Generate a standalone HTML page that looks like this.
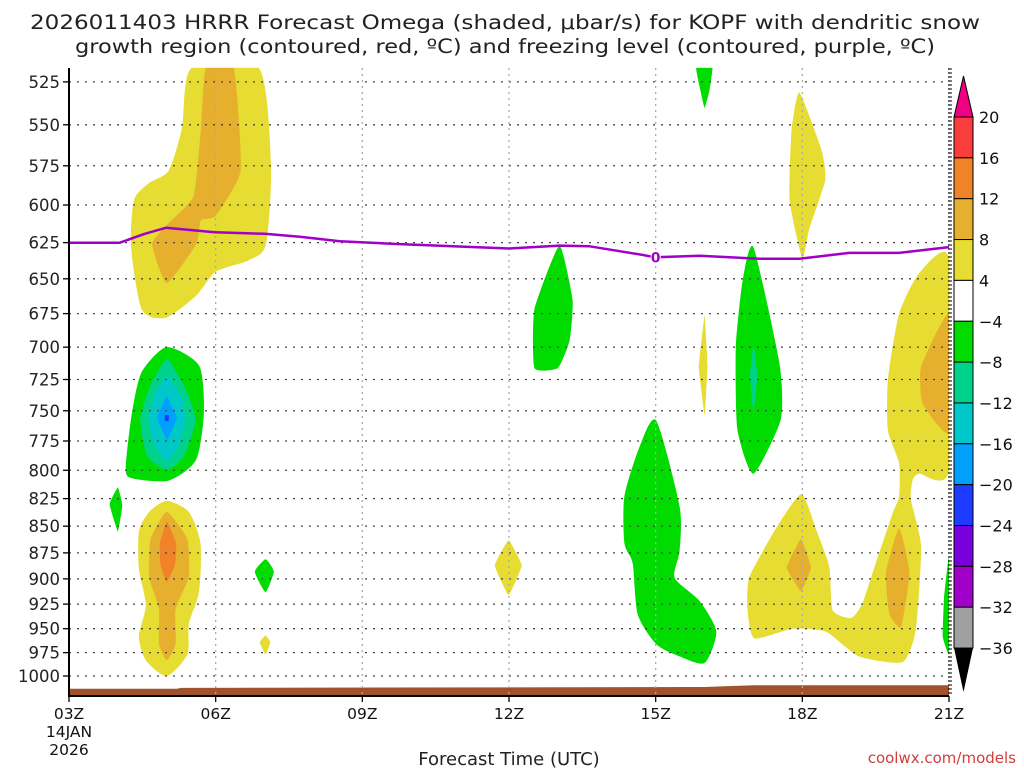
<!DOCTYPE html>
<html><head><meta charset="utf-8"><style>
html,body{margin:0;padding:0;background:#fff;}
svg{display:block;font-family:"DejaVu Sans","Liberation Sans",sans-serif;}
</style></head><body>
<svg id="chart" width="1024" height="768" xmlns="http://www.w3.org/2000/svg">
<text x="505" y="29" font-size="19.5" text-anchor="middle" fill="#222" textLength="950" lengthAdjust="spacingAndGlyphs">2026011403 HRRR Forecast Omega (shaded, μbar/s) for KOPF with dendritic snow</text>
<text x="505" y="53" font-size="19.5" text-anchor="middle" fill="#222" textLength="860" lengthAdjust="spacingAndGlyphs">growth region (contoured, red, ºC) and freezing level (contoured, purple, ºC)</text>
<g id="fills"></g>
<g id="grid"></g>
<g id="lines"></g>
<g id="axes"></g>
<g id="cbar"></g>
<text x="509" y="765" font-size="18" text-anchor="middle" fill="#222">Forecast Time (UTC)</text>
<text x="1016" y="763" font-size="15" text-anchor="end" fill="#d23c3c">coolwx.com/models</text>
</svg>
<script>
const pressureLevels=[525,550,575,600,625,650,675,700,725,750,775,800,825,850,875,900,925,950,975,1000];
const timeTicks=["03Z","06Z","09Z","12Z","15Z","18Z","21Z"];
const tickHours=[0,3,6,9,12,15,18];
const cbarLabels=["20","16","12","8","4","−4","−8","−12","−16","−20","−24","−28","−32","−36"];
const cbarColors=["#fa3c3c","#f08228","#e6af2d","#e6dc32","#ffffff","#00dc00","#00d28c","#00c8c8","#00a0ff","#1e3cff","#7800dc","#a000c8","#a0a0a0"];
const yellowA=[[2.51,517],[3.88,517],[4.13,574],[4.03,626],[3.68,637],[3.0,645],[2.6,662],[1.98,678],[1.49,672],[1.27,628],[1.33,597],[1.63,586],[2.04,578],[2.31,552]];
const orangeA=[[2.8,517],[3.37,517],[3.51,578],[3.0,607],[2.7,610],[2.6,626],[2.0,653],[1.7,626],[2.04,612],[2.55,594],[2.7,552]];
const greenB=[[2.0,700],[2.66,714],[2.76,751],[2.6,791],[2.04,809],[1.29,807],[1.16,798],[1.29,751],[1.49,719]];
const tealB=[[2.0,709],[2.38,732],[2.59,758],[2.35,788],[2.0,800],[1.6,788],[1.46,758],[1.64,732]];
const cyanB=[[2.0,722],[2.32,741],[2.38,758],[2.25,778],[2.0,793],[1.74,778],[1.64,758],[1.74,738]];
const blueB=[[2.0,738],[2.21,756],[2.0,774],[1.8,756]];
const greenSmall1=[[1.0,815],[1.09,831],[1.0,855],[0.83,830]];
const yellowC=[[2.0,827],[2.45,837],[2.69,866],[2.66,913],[2.45,945],[2.42,977],[2.0,1000],[1.57,983],[1.43,958],[1.57,926],[1.43,890],[1.43,855],[1.64,837]];
const orangeC=[[2.0,837],[2.42,862],[2.45,898],[2.18,930],[2.18,966],[2.0,983],[1.84,966],[1.84,930],[1.64,898],[1.67,862]];
const dorangeC=[[2.0,846],[2.19,866],[2.17,886],[2.0,903],[1.87,886],[1.86,866]];
const greenSmall2=[[4.02,881],[4.19,893],[4.02,913],[3.8,893]];
const yellowSmall1=[[4.02,957],[4.12,964],[4.02,977],[3.9,964]];
const yellowSmall2=[[8.99,863],[9.26,887],[8.99,916],[8.71,887]];
const green13=[[10.03,627],[10.3,665],[10.24,695],[10.0,716],[9.52,716],[9.52,672]];
const greenTop16=[[12.83,517],[13.16,517],[13.1,530],[13.0,540],[12.9,528]];
const yellowThin16=[[13.0,676],[13.06,715],[13.0,754],[12.88,715]];
const greenD=[[12.01,758],[12.49,832],[12.49,873],[12.39,899],[12.9,922],[13.24,953],[13.0,986],[12.49,979],[12.01,966],[11.63,935],[11.53,885],[11.36,866],[11.36,823],[11.67,780]];
const greenE=[[14.0,628],[14.53,712],[14.56,757],[14.0,803],[13.67,765],[13.64,700],[13.78,651]];
const tealE=[[14.0,697],[14.08,722],[14.0,753],[13.93,722]];
const yellow18=[[14.94,531],[15.39,565],[15.47,584],[15.14,616],[15.0,636],[14.74,597],[14.78,553]];
const yellowF=[[18.0,636],[17.39,646],[16.98,675],[16.75,725],[16.75,766],[16.98,794],[16.98,823],[16.85,838],[16.5,885],[16.23,924],[16.0,939],[15.62,931],[15.55,888],[15.28,853],[14.99,821],[14.53,847],[13.92,898],[13.88,931],[14.02,960],[14.8,950],[15.48,953],[16.16,979],[17.05,985],[17.32,951],[17.43,869],[17.22,826],[17.26,808],[17.39,803],[18.0,800]];
const orangeF1=[[18.0,675],[17.43,715],[17.46,744],[18.0,768]];
const orangeF2=[[14.97,862],[15.18,889],[14.97,912],[14.68,889]];
const orangeF3=[[16.98,852],[17.19,894],[17.02,948],[16.78,935],[16.71,894]];
const greenRight=[[18.0,878],[17.9,917],[17.87,958],[18.0,976]];
const fzHours=[0,1.04,1.55,1.98,2.98,4.0,4.72,5.54,6.76,9.0,10.03,10.65,11.67,12.0,12.9,14.12,14.94,15.96,16.98,18];
const fzPres=[625,625,619,615,618,619,621,624,626,629,627,627.5,633,635,634,636,636,632,632,628];
const sfcHours=[0,2.2,2.3,13,14,18];
const sfcPres=[1014,1014,1013,1012,1010,1010];

const X0=69,X1=949,YTOP=68,YBOT=696;
function xs(h){return X0+h*(X1-X0)/18;}
function ys(p){return 676-922*Math.log(1000/p);}
const NS="http://www.w3.org/2000/svg";
function mk(tag,attrs,parent){const e=document.createElementNS(NS,tag);for(const k in attrs)e.setAttribute(k,attrs[k]);parent.appendChild(e);return e;}
const fills=document.getElementById('fills');
function clip(v,a,b){return Math.max(a,Math.min(b,v));}
function smoothPath(pts,t){
  const P=pts.map(p=>[xs(p[0]),ys(p[1])]);const n=P.length;
  let d='M'+P[0][0].toFixed(1)+','+P[0][1].toFixed(1);
  for(let i=0;i<n;i++){
    const p0=P[(i-1+n)%n],p1=P[i],p2=P[(i+1)%n],p3=P[(i+2)%n];
    const c1=[clip(p1[0]+(p2[0]-p0[0])*t,X0,X1),clip(p1[1]+(p2[1]-p0[1])*t,YTOP,YBOT)];
    const c2=[clip(p2[0]-(p3[0]-p1[0])*t,X0,X1),clip(p2[1]-(p3[1]-p1[1])*t,YTOP,YBOT)];
    d+=' C'+c1[0].toFixed(1)+','+c1[1].toFixed(1)+' '+c2[0].toFixed(1)+','+c2[1].toFixed(1)+' '+p2[0].toFixed(1)+','+p2[1].toFixed(1);
  }
  return d+'Z';
}
function poly(pts,color,name,t){
  const e=mk('path',{d:smoothPath(pts,t===undefined?0.12:t),fill:color},fills);
  
  
}
const Y='#e6dc32',O='#e6af2d',DO='#f08228',G='#00dc00',T='#00d28c',C='#00c8c8',B='#00a0ff';
poly(yellowA,Y,'omega-yellow-upper-left');poly(orangeA,O,'omega-orange-upper-left',0.08);
poly(greenB,G,'omega-green-left');poly(tealB,T,'omega-teal-left',0.08);poly(cyanB,C,'omega-cyan-left',0.06);poly(blueB,B,'omega-blue-left',0.03);
poly(greenSmall1,G,'omega-green-small-04z',0.05);
poly(yellowC,Y,'omega-yellow-lower-left');poly(orangeC,O,'omega-orange-lower-left',0.08);poly(dorangeC,DO,'omega-darkorange-lower-left',0.06);
poly(greenSmall2,G,'omega-green-small-07z',0.08);poly(yellowSmall1,Y,'omega-yellow-small-07z',0.05);poly(yellowSmall2,Y,'omega-yellow-small-12z',0.05);
poly(green13,G,'omega-green-13z',0.08);poly(greenTop16,G,'omega-green-top-16z',0.05);poly(yellowThin16,Y,'omega-yellow-thin-16z',0.03);
poly(greenD,G,'omega-green-15z');poly(greenE,G,'omega-green-17z',0.1);poly(tealE,T,'omega-teal-17z',0.03);
poly(yellow18,Y,'omega-yellow-18z-upper',0.08);poly(yellowF,Y,'omega-yellow-right',0.1);
poly(orangeF1,O,'omega-orange-right-upper',0.08);poly(orangeF2,O,'omega-orange-18z',0.05);poly(orangeF3,O,'omega-orange-20z',0.08);
poly(greenRight,G,'omega-green-right-edge',0.05);
const dot=mk('rect',{x:xs(2.0)-2,y:ys(756)-3,width:4,height:6,fill:'#1e3cff'},fills);


let gp='M'+xs(0)+','+YBOT;
sfcHours.forEach((h,i)=>{gp+=' L'+xs(h).toFixed(1)+','+ys(sfcPres[i]).toFixed(1);});
gp+=' L'+xs(18)+','+YBOT+' Z';
const ground=mk('path',{d:gp,fill:'#a0522d'},fills);



const grid=document.getElementById('grid');
pressureLevels.forEach(p=>{
  const l=mk('line',{x1:X0,x2:X1,y1:ys(p),y2:ys(p),stroke:'#444','stroke-width':1.3,'stroke-dasharray':'2,6'},grid);
  
  
});
tickHours.forEach(h=>{
  if(h===0||h===18)return;
  const l=mk('line',{x1:xs(h),x2:xs(h),y1:YTOP,y2:YBOT,stroke:'#aaa','stroke-width':1.3,'stroke-dasharray':'2,4'},grid);
  
  
});
const lines=document.getElementById('lines');
const fl=mk('polyline',{points:fzHours.map((h,i)=>xs(h).toFixed(1)+','+ys(fzPres[i]).toFixed(1)).join(' '),fill:'none',stroke:'#a000c8','stroke-width':2.5,'stroke-linejoin':'round'},lines);


const lblBg=mk('rect',{x:xs(12)-5,y:ys(635)-8,width:10,height:15,fill:'#fff'},lines);


const fzl=mk('text',{x:xs(12),y:ys(635)+5,'font-size':14,'font-weight':'bold','text-anchor':'middle',fill:'#a000c8'},lines);
fzl.textContent='0';



const ax=document.getElementById('axes');
mk('line',{x1:X0,x2:X0,y1:YTOP,y2:YBOT+1,stroke:'#000','stroke-width':2},ax);
mk('line',{x1:X0,x2:X1,y1:YBOT,y2:YBOT,stroke:'#000','stroke-width':2},ax);
mk('line',{x1:X1,x2:X1,y1:YTOP,y2:YBOT,stroke:'#000','stroke-width':1.2,'stroke-dasharray':'2,2'},ax);
mk('line',{x1:X1+2,x2:X1+2,y1:YTOP,y2:YBOT,stroke:'#000','stroke-width':1,'stroke-dasharray':'2,2'},ax);
pressureLevels.forEach(p=>{
  mk('line',{x1:X0-6,x2:X0,y1:ys(p),y2:ys(p),stroke:'#000','stroke-width':1.3},ax);
  const t=mk('text',{x:60,y:ys(p)+6,'font-size':16.5,'text-anchor':'end',fill:'#222'},ax);
  t.textContent=String(p);
  
  
});
tickHours.forEach((h,i)=>{
  mk('line',{x1:xs(h),x2:xs(h),y1:YBOT,y2:YBOT+6,stroke:'#000','stroke-width':1.3},ax);
  const t=mk('text',{x:xs(h),y:719,'font-size':15.5,'text-anchor':'middle',fill:'#111'},ax);
  t.textContent=timeTicks[i];
  
  
});
const d1=mk('text',{x:xs(0),y:737,'font-size':15.5,'text-anchor':'middle',fill:'#111'},ax);d1.textContent='14JAN';


const d2=mk('text',{x:xs(0),y:755,'font-size':15.5,'text-anchor':'middle',fill:'#111'},ax);d2.textContent='2026';



const cb=document.getElementById('cbar');
const CBX=954,CBW=19,CBT=117,BH=40.85;
const tip1=mk('polygon',{points:`${CBX},${CBT} ${CBX+CBW},${CBT} ${CBX+CBW/2},76`,fill:'#f00082',stroke:'#000','stroke-width':1},cb);


cbarColors.forEach((c,i)=>{
  const r=mk('rect',{x:CBX,y:CBT+i*BH,width:CBW,height:BH,fill:c,stroke:'#000','stroke-width':1},cb);
  
  
});
const cbBot=CBT+cbarColors.length*BH;
const tip2=mk('polygon',{points:`${CBX},${cbBot} ${CBX+CBW},${cbBot} ${CBX+CBW/2},692`,fill:'#000'},cb);


cbarLabels.forEach((l,i)=>{
  const t=mk('text',{x:979,y:CBT+i*BH+6,'font-size':16,fill:'#111'},cb);
  t.textContent=l;
  
  
});
</script>
</body></html>
